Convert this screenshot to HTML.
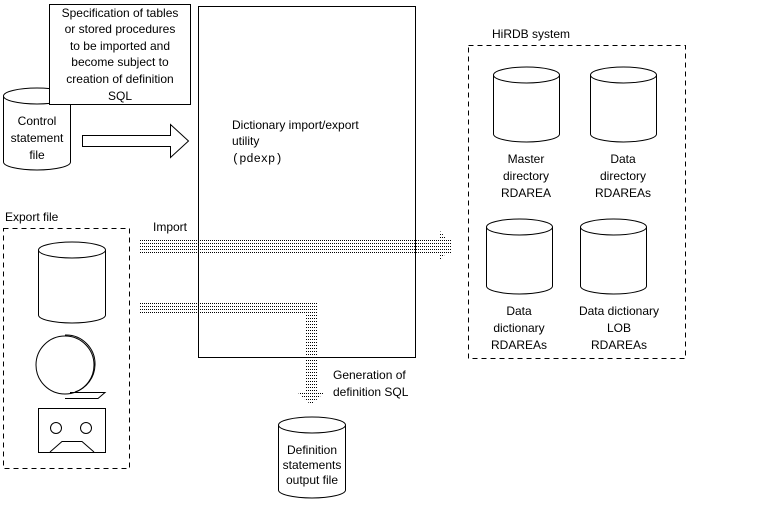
<!DOCTYPE html>
<html><head><meta charset="utf-8"><style>
body{margin:0;background:#fff}
svg{display:block}
text{font-family:"Liberation Sans",sans-serif;font-size:12px;fill:#000}
</style></head><body>
<svg width="772" height="522" viewBox="0 0 772 522" xmlns="http://www.w3.org/2000/svg">
<defs>
<pattern id="dots" width="2" height="3" patternUnits="userSpaceOnUse"><rect width="1" height="1" fill="#000"/></pattern>
</defs>
<g fill="none" stroke="#000" stroke-width="1">
<rect x="198.5" y="6.5" width="217" height="351"/>
<path d="M3.5 96 V162 A33.5 8 0 0 0 70.5 162 V96"/>
<ellipse cx="37" cy="96" rx="33.5" ry="8" fill="#fff"/>
<rect x="49.5" y="4.5" width="141" height="100" fill="#fff"/>
<path d="M82.5 135.5 H170.5 V124.5 L188.5 141 L170.5 157.5 V146.5 H82.5 Z"/>
<rect x="3.5" y="228.5" width="126" height="240" stroke-dasharray="5,4"/>
<path d="M38.5 250 V315 A33.5 8 0 0 0 105.5 315 V250"/>
<ellipse cx="72" cy="250" rx="33.5" ry="8"/>
<circle cx="65" cy="365" r="29"/>
<path d="M65 335 A29 29 0 0 1 95 365 A29 29 0 0 1 75 392"/>
<path d="M70 392.5 H105 L98 398.5 H65"/>
<rect x="38.5" y="408.5" width="67" height="44"/>
<circle cx="56" cy="428" r="5.5"/>
<circle cx="86" cy="428" r="5.5"/>
<path d="M50 452 L62 441.5 H82 L94 452"/>
<rect x="468.5" y="45.5" width="217" height="313" stroke-dasharray="5,4"/>
<path d="M493.5 75 V134 A33 8 0 0 0 559.5 134 V75"/><ellipse cx="526.5" cy="75" rx="33" ry="8"/>
<path d="M590.5 75 V134 A33 8 0 0 0 656.5 134 V75"/><ellipse cx="623.5" cy="75" rx="33" ry="8"/>
<path d="M486.5 227 V286 A33 8 0 0 0 552.5 286 V227"/><ellipse cx="519.5" cy="227" rx="33" ry="8"/>
<path d="M580.5 227 V286 A33 8 0 0 0 646.5 286 V227"/><ellipse cx="613.5" cy="227" rx="33" ry="8"/>
<path d="M278.5 425 V490 A33.5 8 0 0 0 345.5 490 V425"/>
<ellipse cx="312" cy="425" rx="33.5" ry="8"/>
</g>
<g fill="url(#dots)">
<rect x="140" y="238" width="312" height="15"/>
<polygon points="440,231 452,245 440,261"/>
<rect x="140" y="303" width="178" height="10"/>
<rect x="305" y="303" width="13" height="90"/>
<polygon points="296,391 326,391 311,405"/>
</g>
<g text-anchor="middle">
<text x="120" y="17">Specification of tables</text>
<text x="120" y="33">or stored procedures</text>
<text x="120" y="50">to be imported and</text>
<text x="120" y="66">become subject to</text>
<text x="120" y="83">creation of definition</text>
<text x="120" y="100">SQL</text>
<text x="37" y="125">Control</text>
<text x="37" y="142">statement</text>
<text x="37" y="159">file</text>
<text x="526" y="163">Master</text>
<text x="526" y="180">directory</text>
<text x="526" y="197">RDAREA</text>
<text x="623" y="163">Data</text>
<text x="623" y="180">directory</text>
<text x="623" y="197">RDAREAs</text>
<text x="519" y="315">Data</text>
<text x="519" y="332">dictionary</text>
<text x="519" y="349">RDAREAs</text>
<text x="619" y="315">Data dictionary</text>
<text x="619" y="332">LOB</text>
<text x="619" y="349">RDAREAs</text>
<text x="312" y="454" font-size="11">Definition</text>
<text x="312" y="469" font-size="11">statements</text>
<text x="312" y="484" font-size="11">output file</text>
</g>
<text x="232" y="129">Dictionary import/export</text>
<text x="232" y="145">utility</text>
<text x="232" y="162" style="font-family:'Liberation Mono',monospace;font-size:12px">(pdexp)</text>
<text x="5" y="221">Export file</text>
<text x="153" y="231">Import</text>
<text x="492" y="38">HiRDB system</text>
<text x="333" y="379">Generation of</text>
<text x="333" y="396">definition SQL</text>
</svg>
</body></html>
